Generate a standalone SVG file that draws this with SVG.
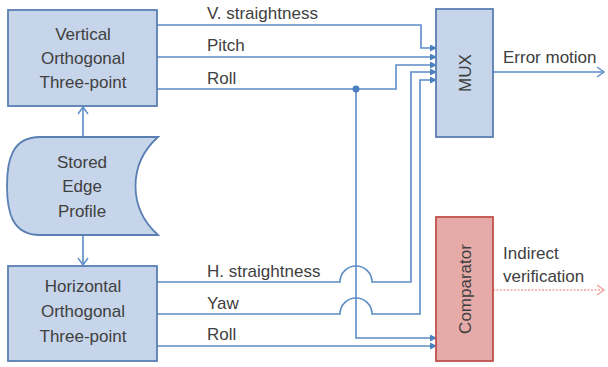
<svg xmlns="http://www.w3.org/2000/svg" width="608" height="367" viewBox="0 0 608 367">
<style>
.box{fill:#c6d5ea;stroke:#5a7fb3;stroke-width:1.8}
.cmp{fill:#e6aaa8;stroke:#c0504d;stroke-width:1.8}
.t{font-family:"Liberation Sans",Arial,sans-serif;font-size:17px;fill:#404040}
.c{text-anchor:middle}
.w{fill:none;stroke:#5b8cc8;stroke-width:1.6}
.p{fill:none;stroke:#f0a3a3;stroke-width:1.6;stroke-dasharray:2 1.5}
</style>
<defs>
<marker id="tri" markerWidth="8" markerHeight="8" refX="6" refY="3.5" orient="auto" markerUnits="userSpaceOnUse">
<path d="M0,0 L7,3.5 L0,7 Z" fill="#4a7fc0"/>
</marker>
<marker id="open" markerWidth="10" markerHeight="12" refX="8" refY="6" orient="auto" markerUnits="userSpaceOnUse">
<path d="M1,1 L8,6 L1,11" fill="none" stroke="#5b8cc8" stroke-width="1.4"/>
</marker>
<marker id="openr" markerWidth="10" markerHeight="12" refX="8" refY="6" orient="auto" markerUnits="userSpaceOnUse">
<path d="M1,1 L8,6 L1,11" fill="none" stroke="#f0a3a3" stroke-width="1.4"/>
</marker>
</defs>

<g id="connectors">
<path class="w" d="M83,137 L83,107" marker-end="url(#open)"/>
<path class="w" d="M83,235 L83,265" marker-end="url(#open)"/>
<path class="w" d="M157,25 L421,25 L421,48 L436,48" marker-end="url(#tri)"/>
<path class="w" d="M157,57 L436,57" marker-end="url(#tri)"/>
<path class="w" d="M157,89 L396,89 L396,65 L436,65" marker-end="url(#tri)"/>
<path class="w" d="M157,282 L340,282 A16,16 0 0 1 372,282 L411,282 L411,72 L436,72" marker-end="url(#tri)"/>
<path class="w" d="M157,314 L340,314 A16,16 0 0 1 372,314 L420,314 L420,80 L436,80" marker-end="url(#tri)"/>
<path class="w" d="M356,89 L356,338 L436,338" marker-end="url(#tri)"/>
<path class="w" d="M157,346 L436,346" marker-end="url(#tri)"/>
<circle cx="356" cy="89" r="3.5" fill="#4a7fc0"/>
<path class="w" d="M493,72 L604,72" marker-end="url(#open)"/>
<path class="p" d="M493,290 L604,290" marker-end="url(#openr)"/>
<text class="t" x="207" y="19">V. straightness</text>
<text class="t" x="207" y="51">Pitch</text>
<text class="t" x="207" y="84">Roll</text>
<text class="t" x="207" y="277">H. straightness</text>
<text class="t" x="207" y="309">Yaw</text>
<text class="t" x="207" y="340">Roll</text>
<text class="t" x="503" y="63">Error motion</text>
<text class="t" x="503" y="259">Indirect</text>
<text class="t" x="503" y="282">verification</text>
</g>

<g id="vertical">
<rect class="box" x="8" y="10" width="149" height="96"/>
<text class="t c" x="83" y="40">Vertical</text>
<text class="t c" x="83" y="64">Orthogonal</text>
<text class="t c" x="83" y="88">Three-point</text>
</g>

<g id="stored">
<path class="box" d="M158,137 L40,137 C12,137 7,160 7,186 C7,212 12,235 40,235 L158,235 C128,208 128,164 158,137 Z"/>
<text class="t c" x="82" y="168">Stored</text>
<text class="t c" x="82" y="192">Edge</text>
<text class="t c" x="82" y="217">Profile</text>
</g>

<g id="horizontal">
<rect class="box" x="8" y="266" width="149" height="95"/>
<text class="t c" x="83" y="292">Horizontal</text>
<text class="t c" x="83" y="317">Orthogonal</text>
<text class="t c" x="83" y="342">Three-point</text>
</g>

<g id="mux">
<rect class="box" x="436" y="9" width="57" height="128"/>
<text class="t c" transform="translate(464.5,73) rotate(-90)" y="6">MUX</text>
</g>

<g id="comparator">
<rect class="cmp" x="436" y="217" width="57" height="144"/>
<text class="t c" transform="translate(464.5,289) rotate(-90)" y="6">Comparator</text>
</g>
</svg>
